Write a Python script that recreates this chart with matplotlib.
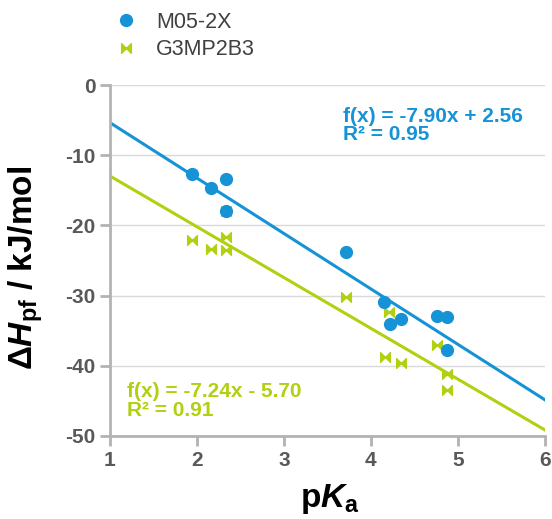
import numpy as np
import matplotlib.pyplot as plt
from matplotlib.path import Path

plt.rcParams['font.family'] = ['Liberation Sans', 'DejaVu Sans']
plt.rcParams['mathtext.fontset'] = 'custom'
plt.rcParams['mathtext.rm'] = 'Liberation Sans:bold'
plt.rcParams['mathtext.it'] = 'Liberation Sans:bold:italic'
plt.rcParams['mathtext.bf'] = 'Liberation Sans:bold'
plt.rcParams['axes.unicode_minus'] = False

# M05-2X data
pka_m05 = [1.95, 2.16, 2.34, 2.34, 3.72, 4.15, 4.22, 4.35, 4.76, 4.88, 4.87]
dh_m05 = [-12.7, -14.6, -13.4, -18.0, -23.8, -30.9, -34.0, -33.4, -32.9, -33.0, -37.7]

# G3MP2B3 data
pka_g3 = [1.95, 2.16, 2.34, 2.34, 2.34, 3.72, 4.21, 4.16, 4.35, 4.76, 4.87, 4.87]
dh_g3 = [-22.1, -23.3, -18.0, -21.7, -23.5, -30.2, -32.4, -38.7, -39.6, -37.1, -41.2, -43.5]

# fitted lines (slope, intercept, r2)
fit_m05 = (-7.90, 2.56, 0.95)
fit_g3 = (-7.24, -5.70, 0.91)

blue = '#1593d6'
green = '#b2cf10'

# bowtie marker
bowtie = Path([(-1, -1), (0, 0), (-1, 1), (-1, -1), (1, -1), (0, 0), (1, 1), (1, -1)],
              [Path.MOVETO, Path.LINETO, Path.LINETO, Path.CLOSEPOLY,
               Path.MOVETO, Path.LINETO, Path.LINETO, Path.CLOSEPOLY])

fig = plt.figure(figsize=(5.52, 5.19), dpi=100)
ax = fig.add_axes([0.199, 0.16, 0.788, 0.676])

xs = np.array([1, 6])
ax.plot(xs, fit_m05[0] * xs + fit_m05[1], color=blue, lw=2.2, zorder=2)
ax.plot(xs, fit_g3[0] * xs + fit_g3[1], color=green, lw=2.2, zorder=2)

ax.plot(pka_g3, dh_g3, ls='none', marker=bowtie, ms=7, color=green,
        label='G3MP2B3', zorder=3)
ax.plot(pka_m05, dh_m05, ls='none', marker='o', ms=8.5, color=blue,
        label='M05-2X', zorder=4)

ax.set_xlim(1, 6)
ax.set_ylim(-50, 0)
ax.set_xticks(range(1, 7))
ax.set_yticks(range(-50, 1, 10))
ax.grid(axis='y', color='#d9d9d9', lw=1)
ax.set_axisbelow(True)
for s in ['top', 'right']:
    ax.spines[s].set_visible(False)
for s in ['left', 'bottom']:
    ax.spines[s].set_color('#b3b3b3')
    ax.spines[s].set_linewidth(2)
ax.tick_params(colors='#b3b3b3', width=2, length=7, labelcolor='#595959',
               labelsize=15)
for lab in ax.get_xticklabels() + ax.get_yticklabels():
    lab.set_fontweight('bold')

ax.set_ylabel(r'$\Delta H_{\rm pf}$ / kJ/mol', fontsize=24, fontweight='bold')
ax.yaxis.set_label_coords(-0.15, 0.48)
ax.set_xlabel(r'p$K_{\rm a}$', fontsize=24, fontweight='bold')
ax.xaxis.set_label_coords(0.505, -0.13)

ax.text(3.68, -5.25, 'f(x) = %.2fx + %.2f' % (fit_m05[0], fit_m05[1]),
        color=blue, fontsize=15, fontweight='bold', va='baseline')
ax.text(3.68, -7.85, 'R² = %.2f' % fit_m05[2], color=blue, fontsize=15,
        fontweight='bold', va='baseline')
ax.text(1.2, -44.5, 'f(x) = %.2fx - %.2f' % (fit_g3[0], -fit_g3[1]),
        color=green, fontsize=15, fontweight='bold', va='baseline')
ax.text(1.2, -47.1, 'R² = %.2f' % fit_g3[2], color=green, fontsize=15,
        fontweight='bold', va='baseline')

h, l = ax.get_legend_handles_labels()
fig.legend(h[::-1], l[::-1], loc='upper left', bbox_to_anchor=(0.17, 1.015),
           frameon=False, fontsize=15.5, labelcolor='#404040', handletextpad=0.8,
           handlelength=1.2, labelspacing=0.3)

fig.savefig('out.png', dpi=100)
